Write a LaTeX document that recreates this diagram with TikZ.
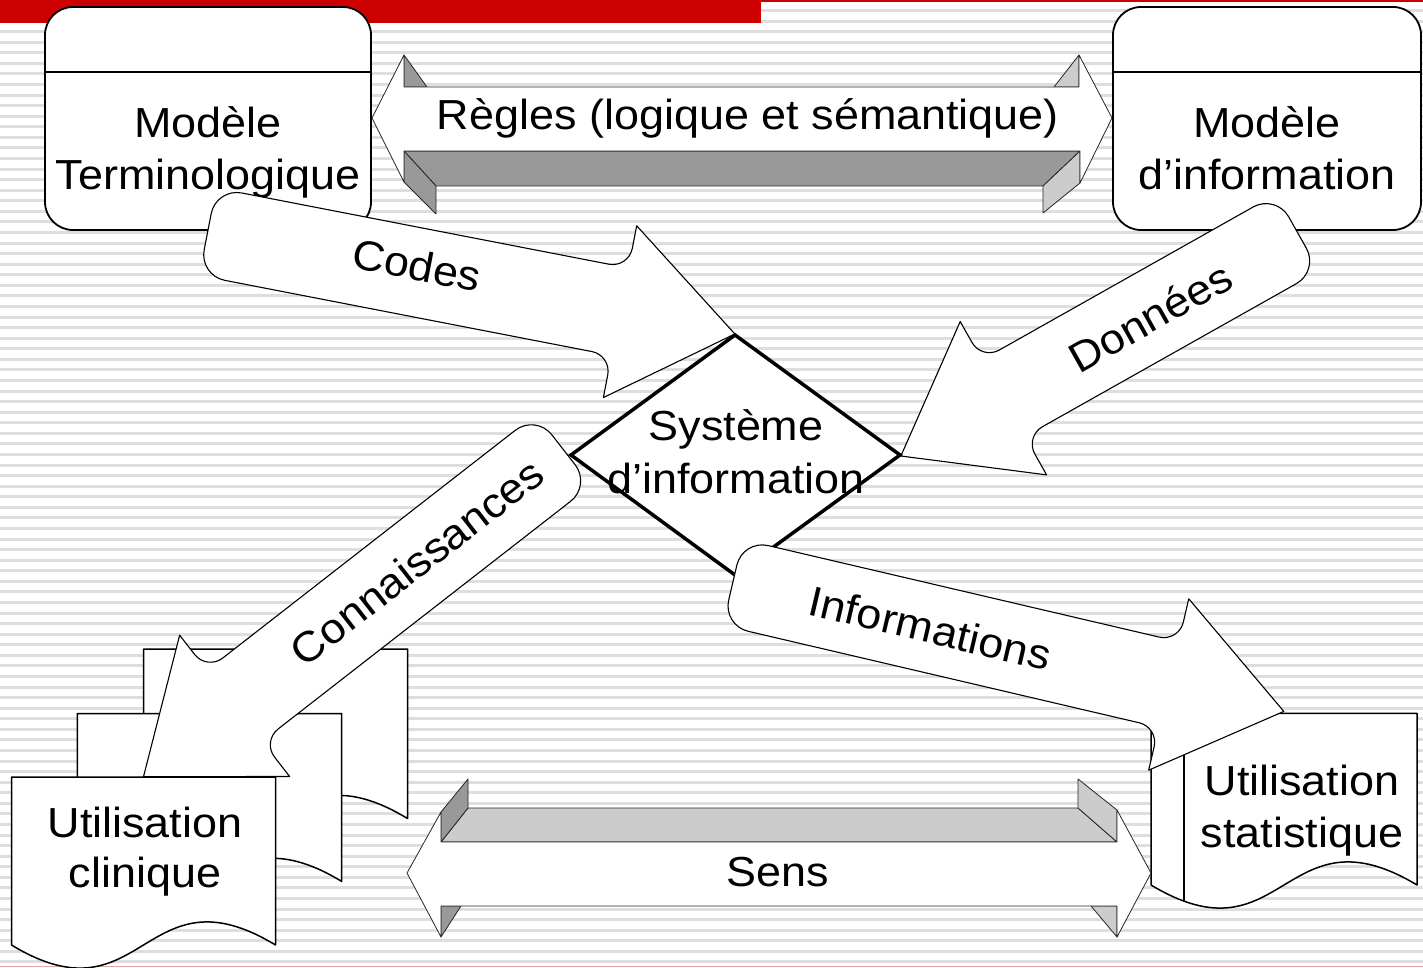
\documentclass[tikz,border=0pt]{standalone}
\usepackage{fontspec}
\setmainfont{Liberation Sans}[FakeStretch=1.07]
\definecolor{slidered}{HTML}{CC0000}
\definecolor{stripegray}{HTML}{DEDEDE}
\definecolor{darkface}{HTML}{999999}
\definecolor{lightface}{HTML}{CCCCCC}
\definecolor{pinkline}{HTML}{E6A3A3}
\newcommand\Rt{26}
\newcommand\Fr{20}
% block arrow: #1 tail centre, #2 rotation, #3 length, #4 head base, #5 half shaft width, #6 half head width, #7 name
\newcommand\blockarrow[7]{%
  \begin{scope}[shift={#1},rotate=#2]
    \draw[barrow] (0,{-#5+\Rt}) .. controls (0,{-#5+0.448*\Rt}) and ({0.448*\Rt},{-#5}) .. (\Rt,{-#5})
      -- ({#4-\Fr},{-#5}) .. controls ({#4-0.448*\Fr},{-#5}) and (#4,{-#5-0.448*\Fr}) .. (#4,{-#5-\Fr})
      -- (#4,{-#6}) -- (#3,0) coordinate (#7-tip) -- (#4,#6) -- (#4,{#5+\Fr})
      .. controls (#4,{#5+0.448*\Fr}) and ({#4-0.448*\Fr},#5) .. ({#4-\Fr},#5)
      -- (\Rt,#5) .. controls ({0.448*\Rt},#5) and (0,{#5-0.448*\Rt}) .. (0,{#5-\Rt}) -- cycle;
    \coordinate (#7-tail) at (0,0);
  \end{scope}}
% document shape: #1 left x, #2 top y, #3 width, #4 bottom y at the sides
\newcommand\docshape[4]{%
  \draw[doc] (#1,#2) -- ({#1+#3},#2) -- ({#1+#3},#4)
    .. controls ({#1+0.5*#3},{#4-80}) and ({#1+0.5*#3},{#4+80}) .. (#1,#4) -- cycle;}
\begin{document}
\begin{tikzpicture}[x=1pt,y=-1pt,
  txt/.style={font=\fontsize{42}{50}\selectfont, inner sep=0pt, anchor=base},
  lbl/.style={font=\fontsize{42}{50}\selectfont, inner sep=0pt},
  barrow/.style={draw=black, fill=white, line width=1.1pt, line join=round},
  box/.style={draw=black, fill=white, line width=1.8pt, rounded corners=28pt},
  face/.style={draw=black!85, line width=0.8pt, line join=round},
  doc/.style={draw=black, fill=white, line width=1.5pt, line join=round},
]
\useasboundingbox (0,0) rectangle (1423,968);
% background
\fill[white] (0,0) rectangle (1423,968);
\foreach \k in {1,...,91} \draw[stripegray, line width=3pt] (0,{10.57*\k}) -- (1423,{10.57*\k});
\fill[slidered] (0,0) rectangle (761,23);
\fill[slidered] (761,0) rectangle (1423,2);
\draw[pinkline, line width=1.5pt] (0,966.5) -- (1423,966.5);

% model boxes
\draw[box] (45,7) rectangle (371,230);
\draw[line width=1.8pt] (45,72) -- (371,72);
\draw[box] (1113,7) rectangle (1421,230);
\draw[line width=1.8pt] (1113,72) -- (1421,72);
\node[txt] (mt1) at (208,138) {Modèle};
\node[txt] (mt2) at (208,190) {Terminologique};
\node[txt] (mi1) at (1267,138) {Modèle};
\node[txt] (mi2) at (1267,190) {d’information};

% Regles 3D double arrow
\filldraw[face, fill=darkface] (404,151) -- (1080,151) -- (1043,186) -- (436,186) -- cycle;
\filldraw[face, fill=darkface] (404,151) -- (404,182) -- (436,214) -- (436,186) -- cycle;
\filldraw[face, fill=lightface] (1080,151) -- (1080,183) -- (1043,213) -- (1043,186) -- cycle;
\filldraw[face, fill=darkface] (404,55) -- (427,87) -- (404,87) -- cycle;
\filldraw[face, fill=lightface] (1079,55) -- (1079,87) -- (1054,87) -- cycle;
\filldraw[face, fill=white] (372,118) -- (404,55) -- (404,87) -- (1079,87) -- (1079,55) -- (1112,118)
  -- (1080,183) -- (1080,151) -- (404,151) -- (404,182) -- cycle;
\node[txt] (regles) at (748,130) {Règles (logique et sémantique)};

% clinical documents (back, middle)
\docshape{143.5}{649}{264}{818.5}
\docshape{77.3}{713.6}{264.4}{881.4}
% Connaissances arrow
\blockarrow{(563.5,449.8)}{-142.1}{532.3}{416.8}{45}{89.5}{conn}
\node[lbl, rotate=37.9] (connL) at (417,562) {Connaissances};
% front clinical document
\docshape{11.5}{777}{264}{945}
\node[txt] (uc1) at (145,837) {Utilisation};
\node[txt] (uc2) at (145,887) {clinique};

% Codes and Donnees arrows
\blockarrow{(207.7,231.7)}{-10.98}{537}{420}{44.5}{87.5}{codes}
\node[lbl, rotate=-11] (codesL) at (417,265) {Codes};
\blockarrow{(1297.5,232.5)}{-150.6}{455.3}{337.6}{44}{88}{donnees}
\node[lbl, rotate=29.4] (donneesL) at (1150,317) {Données};

% Systeme d'information diamond
\coordinate (sysN) at (735,335);
\coordinate (sysE) at (900,455);
\coordinate (sysS) at (735,575);
\coordinate (sysW) at (571,455);
\draw[line width=3.5pt, fill=white, line join=miter] (sysN) -- (sysE) -- (sysS) -- (sysW) -- cycle;
\node[txt] (si1) at (736,440) {Système};
\node[txt] (si2) at (736,493) {d’information};

% statistical document
\docshape{1151}{713.3}{266}{885}
\draw[line width=1.5pt] (1184,713.3) -- (1184,901);
\node[txt] (us1) at (1302,795) {Utilisation};
\node[txt] (us2) at (1302,847) {statistique};

% Informations arrow
\blockarrow{(732.8,582.5)}{-13.17}{565.9}{447.7}{44}{88}{info}
\node[lbl, rotate=-13.2] (infoL) at (930,628) {Informations};

% Sens 3D double arrow
\filldraw[face, fill=lightface] (468,808) -- (1078,808) -- (1117,842) -- (441,842) -- cycle;
\filldraw[face, fill=darkface] (441,812) -- (468,779) -- (468,808) -- (441,842) -- cycle;
\filldraw[face, fill=lightface] (1078,779) -- (1117,810) -- (1117,842) -- (1078,808) -- cycle;
\filldraw[face, fill=darkface] (441,906) -- (461,906) -- (441,937) -- cycle;
\filldraw[face, fill=lightface] (1091,906) -- (1117,906) -- (1117,937) -- cycle;
\filldraw[face, fill=white] (407,873) -- (441,812) -- (441,842) -- (1117,842) -- (1117,810) -- (1151,873)
  -- (1117,937) -- (1117,906) -- (441,906) -- (441,937) -- cycle;
\node[txt] (sens) at (778,886) {Sens};
\end{tikzpicture}
\end{document}
